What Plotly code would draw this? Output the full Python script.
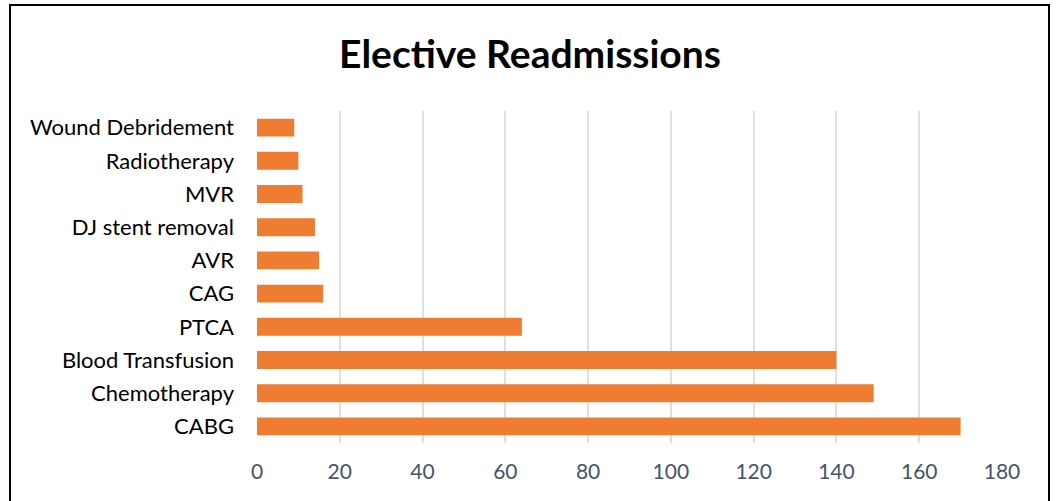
import plotly.graph_objects as go

categories = ["CABG", "Chemotherapy", "Blood Transfusion", "PTCA", "CAG", "AVR",
              "DJ stent removal", "MVR", "Radiotherapy", "Wound Debridement"]
values = [170, 149, 140, 64, 16, 15, 14, 11, 10, 9]
x_ticks = [0, 20, 40, 60, 80, 100, 120, 140, 160, 180]

W, H = 1056, 501
L, R, T, B = 257, 1002, 111, 443
pw, ph = R - L, B - T

fig = go.Figure()
fig.add_trace(go.Bar(
    x=values, y=categories, orientation="h",
    marker=dict(color="#EE7D32", line=dict(width=0)),
))

def px(x):
    return (x - L) / pw

def py(y):
    return (B - y) / ph

fig.add_shape(type="rect", xref="paper", yref="paper",
              x0=px(10), x1=px(1049), y0=py(520), y1=py(5),
              line=dict(color="black", width=2), layer="above")

fig.update_layout(
    width=W, height=H,
    margin=dict(l=L, r=W - R, t=T, b=H - B, pad=0),
    paper_bgcolor="white", plot_bgcolor="white",
    bargap=0.46,
    showlegend=False,
    title=dict(text="<b>Elective Readmissions</b>", x=530 / W, xanchor="center",
               y=1 - 54 / H, yanchor="middle",
               font=dict(family="Lato", size=39, color="black")),
    xaxis=dict(range=[0, 180], tickvals=x_ticks, showgrid=True,
               gridcolor="#DCE0E6", gridwidth=1.5, zeroline=False,
               showline=False, ticks="", ticklabelstandoff=14,
               tickfont=dict(family="Lato", size=21, color="#44546A")),
    yaxis=dict(categoryorder="array", categoryarray=categories,
               showgrid=False, zeroline=False, showline=False, ticks="",
               ticklabelstandoff=22,
               tickfont=dict(family="Lato", size=22, color="black")),
    font=dict(family="Lato"),
)

fig.write_html("out.html")
